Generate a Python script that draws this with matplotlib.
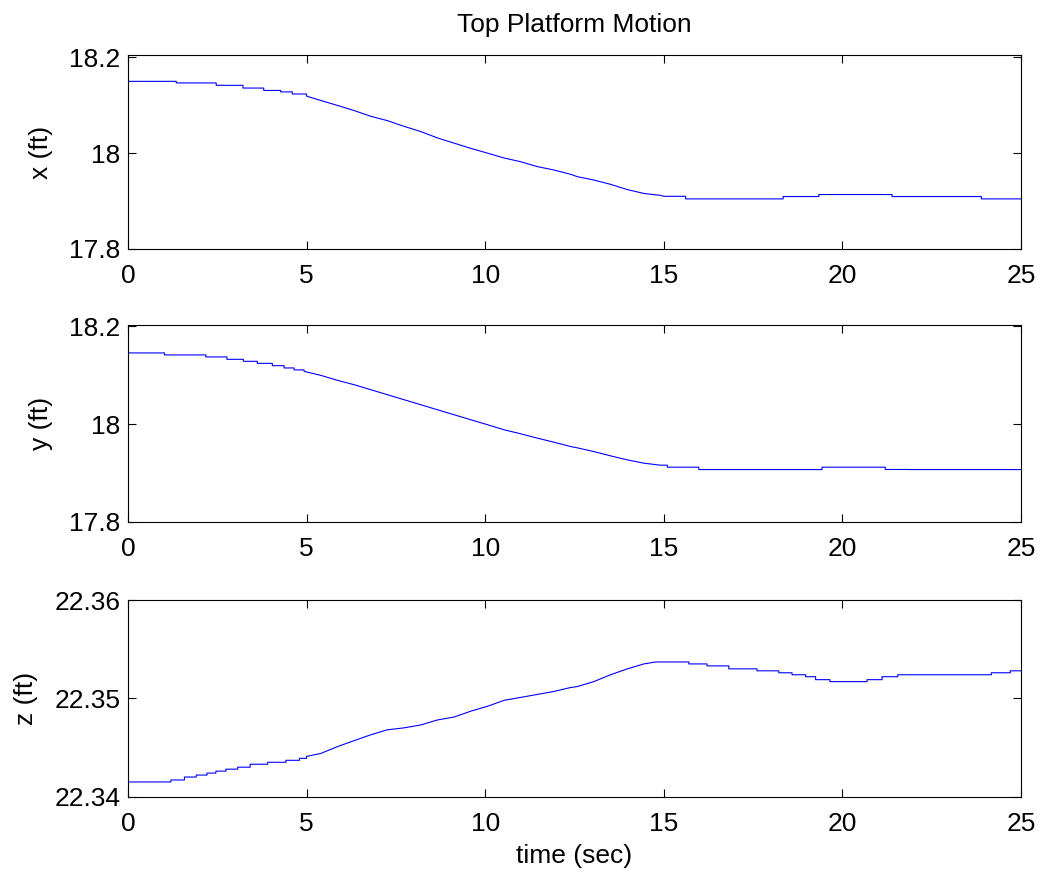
import numpy as np
import matplotlib
matplotlib.use("Agg")
import matplotlib.pyplot as plt

plt.rcParams['font.family'] = ['Liberation Sans', 'DejaVu Sans']

# ---- x (ft): initial plateaus, ramp, settled plateaus ----
x_head_edges = [0.0, 1.35, 2.47, 3.22, 3.80, 4.27, 4.60, 5.00]
x_head_levels = [18.1500, 18.1467, 18.1417, 18.1360, 18.1310, 18.1280, 18.1236]
x_ramp_t = [5.00, 5.40, 5.87, 6.33, 6.80, 7.26, 7.73, 8.20, 8.66, 9.13, 9.60,
            10.00, 10.53, 11.00, 11.46, 11.92, 12.39, 12.58, 13.04, 13.51,
            13.98, 14.44, 14.90, 15.00]
x_ramp_v = [18.1190, 18.1100, 18.0996, 18.0890, 18.0770, 18.0680, 18.0560,
            18.0450, 18.0320, 18.0210, 18.0100, 18.0015, 17.9900, 17.9820,
            17.9720, 17.9650, 17.9560, 17.9510, 17.9440, 17.9350, 17.9240,
            17.9160, 17.9120, 17.9100]
x_tail_edges = [15.00, 15.61, 18.34, 19.34, 21.39, 23.89, 25.00]
x_tail_levels = [17.9100, 17.9046, 17.9095, 17.9137, 17.9095, 17.9046]

# ---- y (ft) ----
y_head_edges = [0.0, 1.02, 2.18, 2.77, 3.23, 3.62, 4.04, 4.37, 4.65, 4.93]
y_head_levels = [18.1458, 18.1417, 18.1376, 18.1327, 18.1286, 18.1244,
                 18.1197, 18.1150, 18.1110]
y_ramp_t = [4.93, 5.40, 5.87, 6.33, 6.80, 7.26, 7.73, 8.20, 8.66, 9.13, 9.60,
            10.07, 10.53, 11.00, 11.46, 11.92, 12.39, 12.58, 13.04, 13.51,
            13.98, 14.44, 14.90, 15.10]
y_ramp_v = [18.1080, 18.0998, 18.0895, 18.0807, 18.0704, 18.0602, 18.0499,
            18.0396, 18.0294, 18.0191, 18.0088, 17.9986, 17.9883, 17.9800,
            17.9712, 17.9630, 17.9540, 17.9513, 17.9437, 17.9349, 17.9267,
            17.9199, 17.9158, 17.9158]
y_tail_edges = [15.10, 15.98, 19.43, 21.20, 21.90, 25.00]
y_tail_levels = [17.9117, 17.9068, 17.9117, 17.9070, 17.9068]

# ---- z (ft) ----
z_head_edges = [0.0, 1.20, 1.58, 1.91, 2.21, 2.46, 2.74, 3.07, 3.42, 3.91,
                4.42, 4.80, 5.00]
z_head_levels = [22.3415, 22.3417, 22.3420, 22.3422, 22.3424, 22.3426,
                 22.3428, 22.3430, 22.3433, 22.3435, 22.3437, 22.3439]
z_ramp_t = [5.00, 5.40, 5.87, 6.33, 6.80, 7.26, 7.73, 8.20, 8.66, 9.13, 9.60,
            10.07, 10.53, 11.00, 11.46, 11.92, 12.39, 12.58, 13.04, 13.51,
            13.98, 14.44, 14.77]
z_ramp_v = [22.3441, 22.3444, 22.3451, 22.3457, 22.3463, 22.3468, 22.3470,
            22.3473, 22.3478, 22.3481, 22.3487, 22.3492, 22.3498, 22.3501,
            22.3504, 22.3507, 22.3511, 22.3512, 22.3517, 22.3524, 22.3530,
            22.3535, 22.3537]
z_tail_edges = [14.77, 15.70, 16.21, 16.82, 17.61, 18.22, 18.59, 18.97, 19.25,
                19.65, 20.69, 21.11, 21.55, 24.17, 24.70, 25.00]
z_tail_levels = [22.3537, 22.3535, 22.3533, 22.3530, 22.3528, 22.3526,
                 22.3524, 22.3522, 22.3519, 22.3517, 22.3519, 22.3522,
                 22.3524, 22.3526, 22.3528]

y_labels = ['x (ft)', 'y (ft)', 'z (ft)']
y_limits = [(17.8, 18.205), (17.8, 18.203), (22.34, 22.36)]
y_ticks = [[17.8, 18.0, 18.2], [17.8, 18.0, 18.2], [22.34, 22.35, 22.36]]
y_ticklabels = [['17.8', '18', '18.2'], ['17.8', '18', '18.2'],
                ['22.34', '22.35', '22.36']]
x_ticks = [0, 5, 10, 15, 20, 25]


def stairs(edges, levels):
    """Turn plateau edges/levels into a path with vertical jumps."""
    t, v = [], []
    for i, lev in enumerate(levels):
        t += [edges[i], edges[i + 1]]
        v += [lev, lev]
    return t, v


def trace(head_e, head_l, ramp_t, ramp_v, tail_e, tail_l):
    t1, v1 = stairs(head_e, head_l)
    t3, v3 = stairs(tail_e, tail_l)
    return (np.array(t1 + list(ramp_t) + t3),
            np.array(v1 + list(ramp_v) + v3))


series = [
    trace(x_head_edges, x_head_levels, x_ramp_t, x_ramp_v, x_tail_edges, x_tail_levels),
    trace(y_head_edges, y_head_levels, y_ramp_t, y_ramp_v, y_tail_edges, y_tail_levels),
    trace(z_head_edges, z_head_levels, z_ramp_t, z_ramp_v, z_tail_edges, z_tail_levels),
]

W, H = 1040, 877
fig = plt.figure(figsize=(W / 100, H / 100), dpi=100)

# axes boxes in pixels: left, top, right, bottom
boxes = [(128, 55, 1021, 249), (128, 325, 1021, 521.7), (128, 600, 1021, 796.7)]
FS = 19

for i, ((t, v), box) in enumerate(zip(series, boxes)):
    l, tp, r, b = box
    ax = fig.add_axes([l / W, (H - b) / H, (r - l) / W, (b - tp) / H])
    ax.plot(t, v, color=(0, 0, 1), lw=0.8)
    ax.set_xlim(0, 25)
    ax.set_ylim(*y_limits[i])
    ax.set_xticks(x_ticks)
    ax.set_xticklabels([str(x) for x in x_ticks])
    ax.set_yticks(y_ticks[i])
    ax.set_yticklabels(y_ticklabels[i])
    ax.tick_params(direction='in', top=True, right=True, length=6, width=0.8,
                   labelsize=FS, colors='black')
    ax.tick_params(axis='x', pad=11)
    ax.tick_params(axis='y', pad=5.5)
    for s in ax.spines.values():
        s.set_linewidth(0.8)
    ax.set_ylabel(y_labels[i], fontsize=FS, labelpad=11.5)
    if i == 0:
        ax.set_title('Top Platform Motion', fontsize=FS, pad=16.8)
    if i == 2:
        ax.set_xlabel('time (sec)', fontsize=FS, labelpad=6)

fig.savefig('out.png', dpi=100, facecolor='white')
